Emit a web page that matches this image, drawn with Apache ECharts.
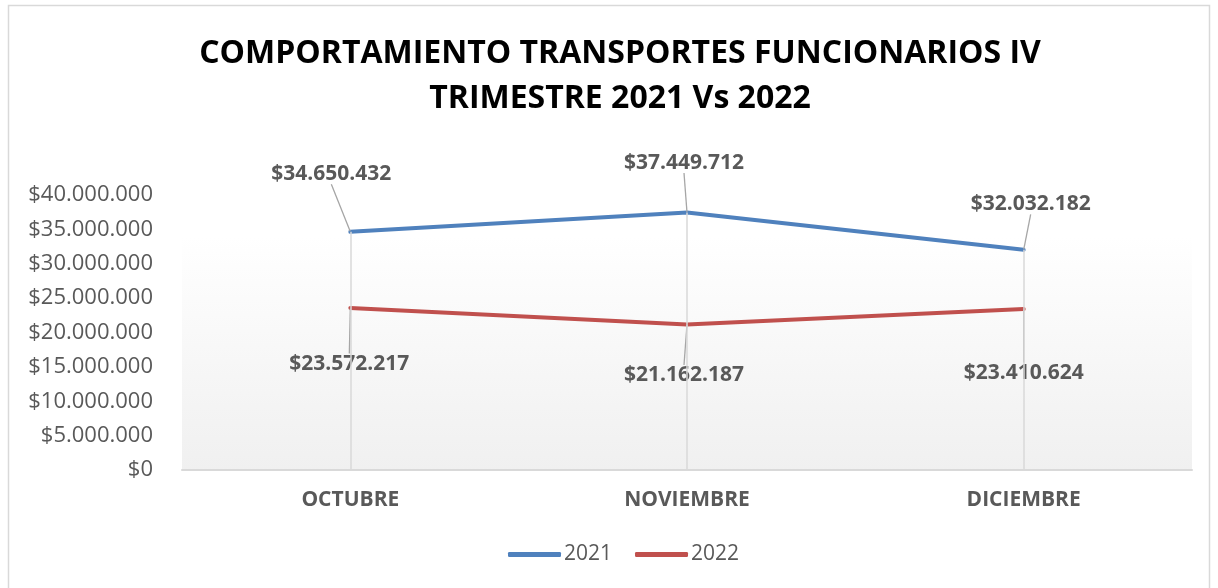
<!DOCTYPE html>
<html>
<head>
    <meta charset="utf-8">
    <title>Transportes funcionarios</title>
    <script src="https://cdn.jsdelivr.net/npm/echarts@6/dist/echarts.min.js"></script>
    <style>
        html, body { margin: 0; padding: 0; background: #fff; }
        #main { width: 1218px; height: 588px; }
    </style>
</head>
<body>
    <div id="main"></div>
    <script type="text/javascript">

    var meses = ['OCTUBRE', 'NOVIEMBRE', 'DICIEMBRE'];
    var valores2021 = [34650432, 37449712, 32032182];
    var valores2022 = [23572217, 21162187, 23410624];
    var yMax = 40000000;
    var yStep = 5000000;

    // label offsets (dx, dy) from each point, like the leader lines in the picture
    var off2021 = [[-19, -58], [-3, -50], [7, -46]];
    var off2022 = [[-1, 56], [-3, 51], [0, 64]];

    var fuente = '"Open Sans", "Noto Sans", sans-serif';
    var gris = '#595959';

    function pesos(v) {
        return '$' + String(Math.round(v)).replace(/\B(?=(\d{3})+(?!\d))/g, '.');
    }

    // drop lines from the highest point down to the axis
    var dropLines = [];
    for (var i = 0; i < meses.length; i++) {
        var alto = Math.max(valores2021[i], valores2022[i]);
        dropLines.push([{ coord: [meses[i], 0] }, { coord: [meses[i], alto] }]);
    }

    function serie(nombre, datos, color, offs) {
        return {
            name: nombre,
            type: 'line',
            data: datos,
            symbol: 'circle',
            symbolSize: 1,
            showSymbol: true,
            z: 3,
            lineStyle: { width: 4, color: color, cap: 'round' },
            itemStyle: { color: color },
            emphasis: { disabled: true },
            label: {
                show: true,
                position: 'inside',
                formatter: function (p) { return pesos(p.value); },
                fontFamily: fuente,
                fontWeight: 'bold',
                fontSize: 21,
                color: gris
            },
            labelLine: {
                show: true,
                lineStyle: { color: '#A6A6A6', width: 1.3 }
            },
            labelLayout: function (p) {
                var o = offs[p.dataIndex];
                return { dx: o[0], dy: o[1] };
            }
        };
    }

    var s1 = serie('2021', valores2021, '#4F81BD', off2021);
    s1.markLine = {
        silent: true,
        symbol: ['none', 'none'],
        label: { show: false },
        lineStyle: { color: '#D9D9D9', width: 1.5, type: 'solid' },
        data: dropLines
    };
    var s2 = serie('2022', valores2022, '#C0504D', off2022);

    var myChart = echarts.init(document.getElementById('main'));

    var option = {
        animation: false,
        title: {
            text: 'COMPORTAMIENTO TRANSPORTES FUNCIONARIOS IV\nTRIMESTRE 2021 Vs 2022',
            left: 615,
            textAlign: 'center',
            top: 26,
            textStyle: {
                fontFamily: fuente,
                fontWeight: 'bold',
                fontSize: 32,
                lineHeight: 45,
                color: '#000'
            }
        },
        graphic: [{
            type: 'rect',
            silent: true,
            shape: { x: 8.5, y: 5.5, width: 1201, height: 620 },
            style: { fill: 'none', stroke: '#D9D9D9', lineWidth: 1.5 }
        }],
        legend: {
            bottom: 18,
            left: 503,
            icon: 'roundRect',
            itemWidth: 53,
            itemHeight: 5,
            itemGap: 23,
            data: ['2021', '2022'],
            textStyle: { fontFamily: fuente, fontSize: 21, color: gris, padding: [0, 0, 0, -2] }
        },
        grid: {
            left: 182,
            right: 26,
            top: 195,
            bottom: 118,
            show: true,
            borderWidth: 0,
            backgroundColor: new echarts.graphic.LinearGradient(0, 0, 0, 1, [
                { offset: 0, color: '#FFFFFF' },
                { offset: 0.15, color: '#FFFFFF' },
                { offset: 1, color: '#F0F0F0' }
            ])
        },
        xAxis: {
            type: 'category',
            data: meses,
            boundaryGap: true,
            axisLine: { lineStyle: { color: '#D9D9D9', width: 2 } },
            axisTick: { show: false },
            splitLine: { show: false },
            axisLabel: {
                margin: 20,
                fontFamily: fuente,
                fontWeight: 'bold',
                fontSize: 21,
                color: gris
            }
        },
        yAxis: {
            type: 'value',
            min: 0,
            max: yMax,
            interval: yStep,
            axisLine: { show: false },
            axisTick: { show: false },
            splitLine: { show: false },
            axisLabel: {
                margin: 29,
                formatter: pesos,
                fontFamily: fuente,
                fontSize: 22,
                color: gris
            }
        },
        series: [s1, s2]
    };

    myChart.setOption(option);

    </script>
</body>
</html>
